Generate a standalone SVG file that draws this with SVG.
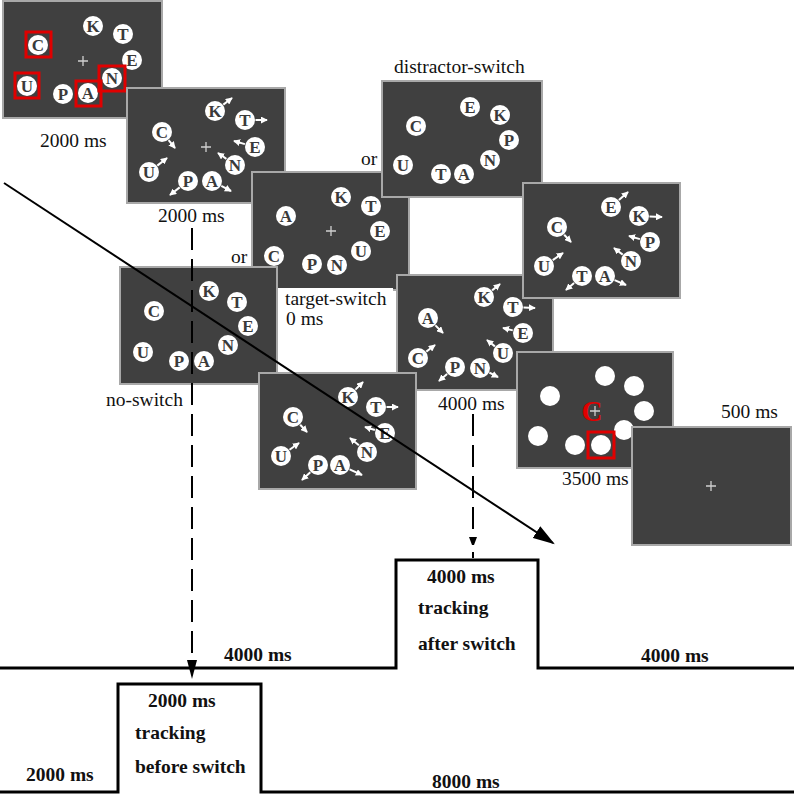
<svg xmlns="http://www.w3.org/2000/svg" width="794" height="797" viewBox="0 0 794 797">
<defs>
<style>
.bg{fill:#fff}
.panel{fill:#404040;stroke:#a8a8a8;stroke-width:2}
.c{fill:#fff}
.dot{fill:#fff}
.l{font-family:"Liberation Serif","Times New Roman",serif;font-weight:bold;font-size:17px;fill:#3a3a3a;text-anchor:middle}
.plus{stroke:#d0d0d0;stroke-width:1.3;fill:none}
.wa{stroke:#fff;stroke-width:2;fill:none;marker-end:url(#wh)}
.red{fill:none;stroke:#e00000;stroke-width:3}
.lab{font-family:"Liberation Serif","Times New Roman",serif;font-size:19.5px;fill:#111}
.bl{font-family:"Liberation Serif","Times New Roman",serif;font-size:19.5px;font-weight:bold;fill:#111}
.tl{fill:none;stroke:#000;stroke-width:3}
.dash{fill:none;stroke:#000;stroke-width:2;stroke-dasharray:22 9}
</style>
<marker id="wh" viewBox="0 0 8 8" refX="7" refY="4" markerWidth="7" markerHeight="7" markerUnits="userSpaceOnUse" orient="auto"><path d="M0,0 L8,4 L0,8 z" fill="#fff"/></marker>
<marker id="bh" viewBox="0 0 10 10" refX="9" refY="5" markerWidth="22" markerHeight="14" markerUnits="userSpaceOnUse" orient="auto" preserveAspectRatio="none"><path d="M0,0 L10,5 L0,10 z" fill="#000"/></marker>
</defs>
<rect width="794" height="797" fill="#fff"/>

<g id="panel1">
<rect class="panel" x="3" y="1" width="159" height="117"/>
<path class="plus" d="M78,61 h10 M83,56 v10"/>
<g><circle class="c" cx="93" cy="26" r="10"/><text class="l" x="93" y="31.5">K</text></g>
<g><circle class="c" cx="123" cy="34" r="10"/><text class="l" x="123" y="39.5">T</text></g>
<g><circle class="c" cx="132" cy="60" r="10"/><text class="l" x="132" y="65.5">E</text></g>
<g><circle class="c" cx="38" cy="45" r="10"/><text class="l" x="38" y="50.5">C</text></g>
<g><circle class="c" cx="27" cy="86" r="10"/><text class="l" x="27" y="91.5">U</text></g>
<g><circle class="c" cx="63" cy="94" r="10"/><text class="l" x="63" y="99.5">P</text></g>
<g><circle class="c" cx="88" cy="93" r="10"/><text class="l" x="88" y="98.5">A</text></g>
<g><circle class="c" cx="112" cy="78" r="10"/><text class="l" x="112" y="83.5">N</text></g>
<rect class="red" x="26" y="32" width="25" height="25"/>
<rect class="red" x="15" y="73" width="24" height="25"/>
<rect class="red" x="76" y="81" width="25" height="25"/>
<rect class="red" x="99" y="66" width="26" height="25"/>
<text class="lab" x="40" y="147">2000 ms</text>
</g>

<g id="panel2">
<rect class="panel" x="127" y="88" width="158" height="115"/>
<path class="plus" d="M201,147 h10 M206,142 v10"/>
<line class="wa" x1="223.3" y1="104.6" x2="232" y2="98"/>
<line class="wa" x1="255.5" y1="120" x2="267" y2="120"/>
<line class="wa" x1="244.9" y1="144.1" x2="234" y2="141"/>
<line class="wa" x1="226.4" y1="158.9" x2="218" y2="153"/>
<line class="wa" x1="221.3" y1="185.9" x2="231" y2="191"/>
<line class="wa" x1="179.7" y1="187.4" x2="170" y2="195"/>
<line class="wa" x1="157.3" y1="165.6" x2="167" y2="158"/>
<line class="wa" x1="168.6" y1="140.2" x2="175" y2="148"/>
<g><circle class="c" cx="215" cy="111" r="10"/><text class="l" x="215" y="116.5">K</text></g>
<g><circle class="c" cx="245" cy="120" r="10"/><text class="l" x="245" y="125.5">T</text></g>
<g><circle class="c" cx="255" cy="147" r="10"/><text class="l" x="255" y="152.5">E</text></g>
<g><circle class="c" cx="235" cy="165" r="10"/><text class="l" x="235" y="170.5">N</text></g>
<g><circle class="c" cx="212" cy="181" r="10"/><text class="l" x="212" y="186.5">A</text></g>
<g><circle class="c" cx="188" cy="181" r="10"/><text class="l" x="188" y="186.5">P</text></g>
<g><circle class="c" cx="149" cy="172" r="10"/><text class="l" x="149" y="177.5">U</text></g>
<g><circle class="c" cx="162" cy="132" r="10"/><text class="l" x="162" y="137.5">C</text></g>
<text class="lab" x="158" y="222">2000 ms</text>
</g>

<g id="panel-target-switch">
<rect class="panel" x="252" y="172" width="157" height="118"/>
<path class="plus" d="M326,231 h10 M331,226 v10"/>
<g><circle class="c" cx="341" cy="197" r="10"/><text class="l" x="341" y="202.5">K</text></g>
<g><circle class="c" cx="371" cy="206" r="10"/><text class="l" x="371" y="211.5">T</text></g>
<g><circle class="c" cx="380" cy="231" r="10"/><text class="l" x="380" y="236.5">E</text></g>
<g><circle class="c" cx="361" cy="251" r="10"/><text class="l" x="361" y="256.5">U</text></g>
<g><circle class="c" cx="337" cy="265" r="10"/><text class="l" x="337" y="270.5">N</text></g>
<g><circle class="c" cx="312" cy="264" r="10"/><text class="l" x="312" y="269.5">P</text></g>
<g><circle class="c" cx="274" cy="256" r="10"/><text class="l" x="274" y="261.5">C</text></g>
<g><circle class="c" cx="286" cy="216" r="10"/><text class="l" x="286" y="221.5">A</text></g>
</g>

<g id="panel-distractor-switch">
<rect class="panel" x="382" y="81" width="160" height="116"/>
<g><circle class="c" cx="470" cy="107" r="10"/><text class="l" x="470" y="112.5">E</text></g>
<g><circle class="c" cx="500" cy="115" r="10"/><text class="l" x="500" y="120.5">K</text></g>
<g><circle class="c" cx="509" cy="140" r="10"/><text class="l" x="509" y="145.5">P</text></g>
<g><circle class="c" cx="490" cy="160" r="10"/><text class="l" x="490" y="165.5">N</text></g>
<g><circle class="c" cx="464" cy="174" r="10"/><text class="l" x="464" y="179.5">A</text></g>
<g><circle class="c" cx="441" cy="174" r="10"/><text class="l" x="441" y="179.5">T</text></g>
<g><circle class="c" cx="403" cy="165" r="10"/><text class="l" x="403" y="170.5">U</text></g>
<g><circle class="c" cx="416" cy="126" r="10"/><text class="l" x="416" y="131.5">C</text></g>
<text class="lab" x="394" y="73">distractor-switch</text>
<text class="lab" x="361" y="165">or</text>
</g>

<g id="panel-no-switch">
<rect class="panel" x="120" y="267" width="157" height="117"/>
<g><circle class="c" cx="209" cy="291" r="10"/><text class="l" x="209" y="296.5">K</text></g>
<g><circle class="c" cx="237" cy="302" r="10"/><text class="l" x="237" y="307.5">T</text></g>
<g><circle class="c" cx="248" cy="326" r="10"/><text class="l" x="248" y="331.5">E</text></g>
<g><circle class="c" cx="228" cy="345" r="10"/><text class="l" x="228" y="350.5">N</text></g>
<g><circle class="c" cx="204" cy="361" r="10"/><text class="l" x="204" y="366.5">A</text></g>
<g><circle class="c" cx="179" cy="361" r="10"/><text class="l" x="179" y="366.5">P</text></g>
<g><circle class="c" cx="143" cy="352" r="10"/><text class="l" x="143" y="357.5">U</text></g>
<g><circle class="c" cx="154" cy="311" r="10"/><text class="l" x="154" y="316.5">C</text></g>
<text class="lab" x="231" y="263">or</text>
<text class="lab" x="106" y="406">no-switch</text>
</g>

<g id="label-target-switch">
<rect class="bg" x="278" y="288" width="115" height="42"/>
<text class="lab" x="285" y="305">target-switch</text>
<text class="lab" x="286" y="325">0 ms</text>
</g>

<g id="panel-4000">
<rect class="panel" x="397" y="275" width="156" height="115"/>
<line class="wa" x1="492.1" y1="290.4" x2="500" y2="284"/>
<line class="wa" x1="523.5" y1="307.5" x2="535" y2="308"/>
<line class="wa" x1="512.8" y1="330.4" x2="503" y2="328"/>
<line class="wa" x1="494.9" y1="346.4" x2="487" y2="340"/>
<line class="wa" x1="489.4" y1="372.7" x2="498" y2="377"/>
<line class="wa" x1="447.1" y1="373.9" x2="439" y2="381"/>
<line class="wa" x1="426.3" y1="351.6" x2="435" y2="345"/>
<line class="wa" x1="435.4" y1="325.4" x2="443" y2="333"/>
<g><circle class="c" cx="484" cy="297" r="10"/><text class="l" x="484" y="302.5">K</text></g>
<g><circle class="c" cx="513" cy="307" r="10"/><text class="l" x="513" y="312.5">T</text></g>
<g><circle class="c" cx="523" cy="333" r="10"/><text class="l" x="523" y="338.5">E</text></g>
<g><circle class="c" cx="503" cy="353" r="10"/><text class="l" x="503" y="358.5">U</text></g>
<g><circle class="c" cx="480" cy="368" r="10"/><text class="l" x="480" y="373.5">N</text></g>
<g><circle class="c" cx="455" cy="367" r="10"/><text class="l" x="455" y="372.5">P</text></g>
<g><circle class="c" cx="418" cy="358" r="10"/><text class="l" x="418" y="363.5">C</text></g>
<g><circle class="c" cx="428" cy="318" r="10"/><text class="l" x="428" y="323.5">A</text></g>
<text class="lab" x="438" y="410">4000 ms</text>
</g>

<g id="panel-distractor-moving">
<rect class="panel" x="523" y="183" width="157" height="115"/>
<line class="wa" x1="618.9" y1="200.1" x2="628" y2="192"/>
<line class="wa" x1="649.5" y1="216.5" x2="662" y2="217"/>
<line class="wa" x1="639.9" y1="239.1" x2="629" y2="236"/>
<line class="wa" x1="622.7" y1="254.6" x2="614" y2="248"/>
<line class="wa" x1="614.6" y1="280.1" x2="626" y2="285"/>
<line class="wa" x1="574.1" y1="282.9" x2="566" y2="290"/>
<line class="wa" x1="552.7" y1="260.1" x2="563" y2="253"/>
<line class="wa" x1="564.2" y1="234.7" x2="571" y2="242"/>
<g><circle class="c" cx="611" cy="207" r="10"/><text class="l" x="611" y="212.5">E</text></g>
<g><circle class="c" cx="639" cy="216" r="10"/><text class="l" x="639" y="221.5">K</text></g>
<g><circle class="c" cx="650" cy="242" r="10"/><text class="l" x="650" y="247.5">P</text></g>
<g><circle class="c" cx="631" cy="261" r="10"/><text class="l" x="631" y="266.5">N</text></g>
<g><circle class="c" cx="605" cy="276" r="10"/><text class="l" x="605" y="281.5">A</text></g>
<g><circle class="c" cx="582" cy="276" r="10"/><text class="l" x="582" y="281.5">T</text></g>
<g><circle class="c" cx="544" cy="266" r="10"/><text class="l" x="544" y="271.5">U</text></g>
<g><circle class="c" cx="557" cy="227" r="10"/><text class="l" x="557" y="232.5">C</text></g>
</g>

<g id="panel-noswitch-moving">
<rect class="panel" x="259" y="373" width="157" height="116"/>
<line class="wa" x1="355.4" y1="389.6" x2="363" y2="382"/>
<line class="wa" x1="386.5" y1="407" x2="398" y2="407"/>
<line class="wa" x1="374.9" y1="430" x2="365" y2="427"/>
<line class="wa" x1="358.9" y1="445.3" x2="350" y2="438"/>
<line class="wa" x1="349.6" y1="469.3" x2="362" y2="475"/>
<line class="wa" x1="310.3" y1="472.2" x2="302" y2="480"/>
<line class="wa" x1="289.5" y1="449.8" x2="299" y2="443"/>
<line class="wa" x1="300.2" y1="424.7" x2="307" y2="432"/>
<g><circle class="c" cx="348" cy="397" r="10"/><text class="l" x="348" y="402.5">K</text></g>
<g><circle class="c" cx="376" cy="407" r="10"/><text class="l" x="376" y="412.5">T</text></g>
<g><circle class="c" cx="385" cy="433" r="10"/><text class="l" x="385" y="438.5">E</text></g>
<g><circle class="c" cx="367" cy="452" r="10"/><text class="l" x="367" y="457.5">N</text></g>
<g><circle class="c" cx="340" cy="465" r="10"/><text class="l" x="340" y="470.5">A</text></g>
<g><circle class="c" cx="318" cy="465" r="10"/><text class="l" x="318" y="470.5">P</text></g>
<g><circle class="c" cx="281" cy="456" r="10"/><text class="l" x="281" y="461.5">U</text></g>
<g><circle class="c" cx="293" cy="417" r="10"/><text class="l" x="293" y="422.5">C</text></g>
</g>

<g id="panel-3500">
<rect class="panel" x="517" y="352" width="156" height="116"/>
<circle class="dot" cx="605" cy="376" r="10"/>
<circle class="dot" cx="634" cy="386" r="10"/>
<circle class="dot" cx="644" cy="411" r="10"/>
<circle class="dot" cx="624" cy="430" r="10"/>
<circle class="dot" cx="601" cy="445" r="10"/>
<circle class="dot" cx="575" cy="445" r="10"/>
<circle class="dot" cx="538" cy="436" r="10"/>
<circle class="dot" cx="550" cy="396" r="10"/>
<rect class="red" x="588" y="432" width="26" height="26"/>
<text x="592" y="421" font-family="Liberation Serif, Times New Roman, serif" font-weight="bold" font-size="29" fill="#e00000" text-anchor="middle">C</text>
<path class="plus" d="M590,411 h10 M595,406 v10"/>
<text class="lab" x="562" y="485">3500 ms</text>
</g>

<g id="panel-500">
<rect class="panel" x="632" y="427" width="159" height="118"/>
<path class="plus" d="M706,486 h10 M711,481 v10"/>
<text class="lab" x="721" y="418">500 ms</text>
</g>

<g id="connectors">
<line x1="4" y1="183" x2="553" y2="543" stroke="#000" stroke-width="2" marker-end="url(#bh)"/>
<line class="dash" x1="192" y1="228" x2="192" y2="662"/>
<path d="M187,660 L197,660 L192,679 z" fill="#000"/>
<line class="dash" x1="473" y1="414" x2="473" y2="538"/>
<path d="M469,537 L477,537 L474,545 L472,545 z" fill="#000"/>
<line x1="473" y1="552" x2="473" y2="558" stroke="#000" stroke-width="2"/>
<path class="tl" d="M0,668 H396 V560 H538 V668 H794"/>
<path class="tl" d="M0,792 H118 V684 H261 V792 H794"/>
</g>

<g id="timeline-labels">
<text class="bl" x="224" y="661">4000 ms</text>
<text class="bl" x="148" y="707">2000 ms</text>
<text class="bl" x="135" y="739">tracking</text>
<text class="bl" x="135" y="773">before switch</text>
<text class="bl" x="26" y="781">2000 ms</text>
<text class="bl" x="432" y="788">8000 ms</text>
<text class="bl" x="427" y="583">4000 ms</text>
<text class="bl" x="418" y="614">tracking</text>
<text class="bl" x="418" y="650">after switch</text>
<text class="bl" x="641" y="662">4000 ms</text>
</g>
</svg>
